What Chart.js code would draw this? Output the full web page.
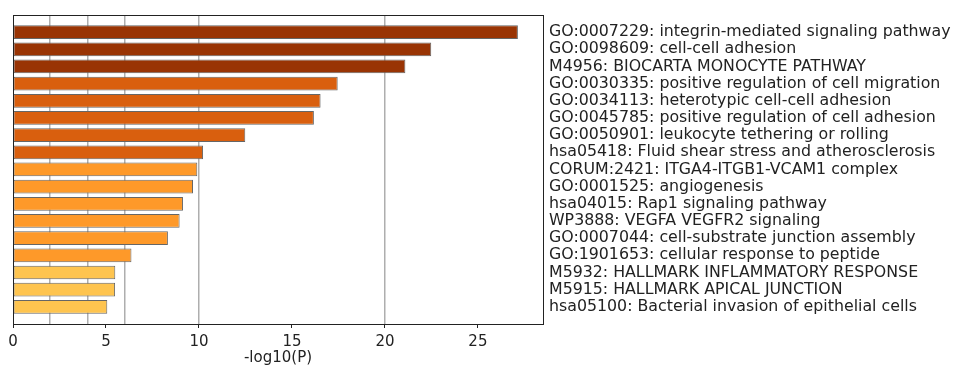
<!DOCTYPE html>
<html>
<head>
<meta charset="utf-8">
<script src="https://cdn.jsdelivr.net/npm/chart.js@4"></script>
<style>
  html, body { margin: 0; padding: 0; background: #fff; }
  #wrap { width: 953px; height: 367px; }
</style>
</head>
<body>
<div id="wrap"><canvas id="c" width="953" height="367"></canvas></div>
<script>
const terms = [
  "GO:0007229: integrin-mediated signaling pathway",
  "GO:0098609: cell-cell adhesion",
  "M4956: BIOCARTA MONOCYTE PATHWAY",
  "GO:0030335: positive regulation of cell migration",
  "GO:0034113: heterotypic cell-cell adhesion",
  "GO:0045785: positive regulation of cell adhesion",
  "GO:0050901: leukocyte tethering or rolling",
  "hsa05418: Fluid shear stress and atherosclerosis",
  "CORUM:2421: ITGA4-ITGB1-VCAM1 complex",
  "GO:0001525: angiogenesis",
  "hsa04015: Rap1 signaling pathway",
  "WP3888: VEGFA VEGFR2 signaling",
  "GO:0007044: cell-substrate junction assembly",
  "GO:1901653: cellular response to peptide",
  "M5932: HALLMARK INFLAMMATORY RESPONSE",
  "M5915: HALLMARK APICAL JUNCTION",
  "hsa05100: Bacterial invasion of epithelial cells"
];
const negLogP = [27.15, 22.49, 21.10, 17.46, 16.54, 16.18, 12.49, 10.22, 9.91, 9.68, 9.14, 8.96, 8.33, 6.37, 5.50, 5.49, 5.07];
const xTicks = [0, 5, 10, 15, 20, 25];
const refLines = [2, 4, 6, 10, 20];
const xTitle = "-log10(P)";

const palette = { dark: "#993404", orange: "#d95f0e", light: "#fe9929", yellow: "#fec44f" };
const barColors = [
  palette.dark, palette.dark, palette.dark,
  palette.orange, palette.orange, palette.orange, palette.orange, palette.orange,
  palette.light, palette.light, palette.light, palette.light, palette.light, palette.light,
  palette.yellow, palette.yellow, palette.yellow
];

const FONT = "'DejaVu Sans', sans-serif";

const framePlugin = {
  id: 'frame',
  afterDraw(chart) {
    const a = chart.chartArea, ctx = chart.ctx;
    ctx.save();
    ctx.strokeStyle = '#222';
    ctx.lineWidth = 1;
    ctx.strokeRect(Math.round(a.left) + 0.5, Math.round(a.top) + 0.5,
                   Math.round(a.right - a.left), Math.round(a.bottom - a.top));
    ctx.restore();
  }
};

new Chart(document.getElementById('c'), {
  type: 'bar',
  data: {
    datasets: [{
      data: negLogP.map((v, i) => ({ x: v, y: i })),
      backgroundColor: barColors,
      borderColor: '#666666',
      borderWidth: 1,
      borderSkipped: false,
      categoryPercentage: 1.0,
      barPercentage: 0.8
    }]
  },
  options: {
    indexAxis: 'y',
    responsive: false,
    animation: false,
    events: [],
    layout: { padding: { left: 13, top: 12, right: 0, bottom: 0 } },
    plugins: { legend: { display: false }, tooltip: { enabled: false } },
    scales: {
      x: {
        type: 'linear',
        position: 'bottom',
        min: 0, max: 28.5,
        afterBuildTicks: s => { s.ticks = xTicks.map(v => ({ value: v })); },
        afterFit: s => { s.height = 43; },
        grid: { drawOnChartArea: false, drawTicks: true, tickLength: 4, tickColor: '#222', tickWidth: 1 },
        border: { display: true, color: '#222', width: 1 },
        ticks: { color: '#222', font: { family: FONT, size: 15 }, padding: 5, maxRotation: 0 },
        title: { display: true, text: xTitle, color: '#222', font: { family: FONT, size: 15 }, padding: { top: 1, bottom: 0 } }
      },
      x2: {
        type: 'linear',
        position: 'top',
        min: 0, max: 28.5,
        afterBuildTicks: s => { s.ticks = refLines.map(v => ({ value: v })); },
        afterFit: s => { s.height = 0; },
        grid: { drawOnChartArea: true, drawTicks: false, color: '#aeaeae', lineWidth: 1.5 },
        border: { display: false },
        ticks: { display: false }
      },
      y: {
        type: 'linear',
        position: 'right',
        reverse: true,
        offset: false,
        min: -0.97, max: 17,
        afterBuildTicks: s => { s.ticks = terms.map((t, i) => ({ value: i })); },
        afterFit: s => { s.width = 410; },
        grid: { display: false, drawTicks: false, offset: false },
        border: { display: false },
        ticks: {
          color: '#222',
          font: { family: FONT, size: 15.8 },
          padding: 6,
          autoSkip: false,
          callback: v => terms[v] ?? ''
        }
      }
    }
  },
  plugins: [framePlugin]
});
</script>
</body>
</html>
